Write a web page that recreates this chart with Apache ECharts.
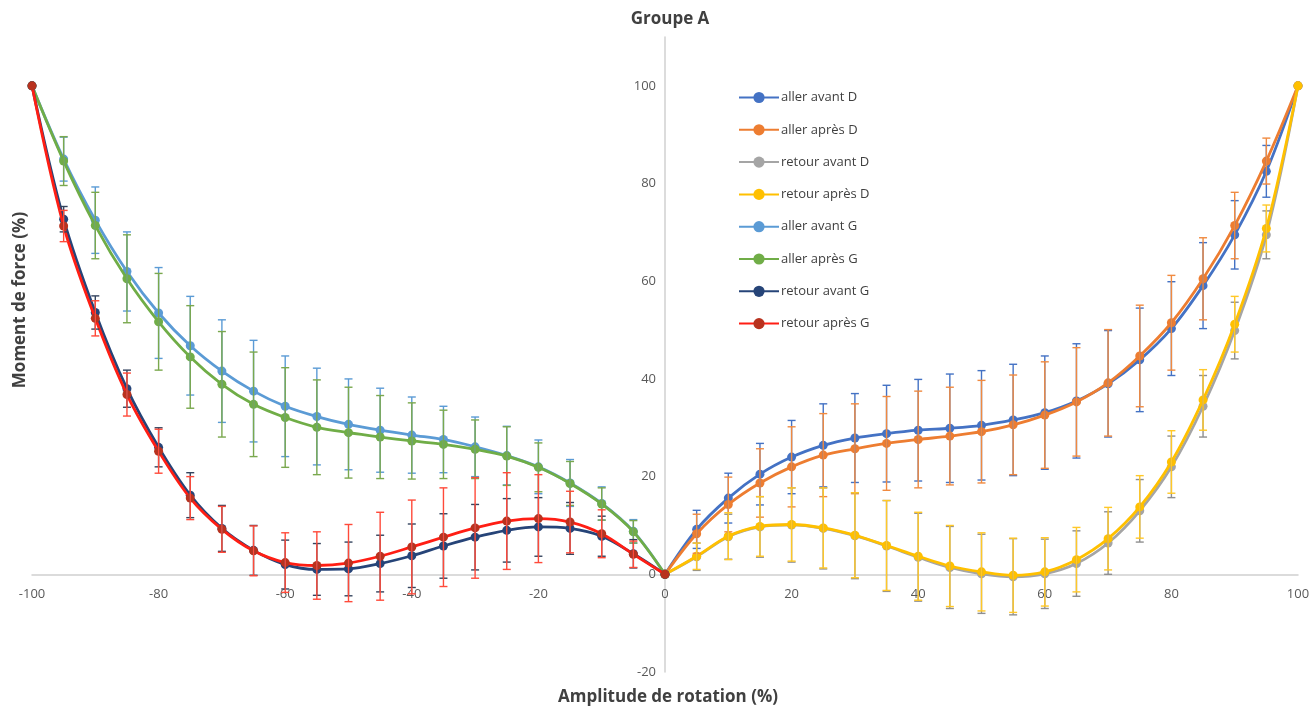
<!DOCTYPE html>
<html><head><meta charset="utf-8">
<script src="https://cdn.jsdelivr.net/npm/echarts@6/dist/echarts.min.js"></script>
<style>html,body{margin:0;padding:0;background:#fff}#c{width:1315px;height:713px}</style>
</head><body><div id="c"></div>
<script>
// ---- data ----
const xLeft  = [-100,-95,-90,-85,-80,-75,-70,-65,-60,-55,-50,-45,-40,-35,-30,-25,-20,-15,-10,-5,0];
const xRight = [0,5,10,15,20,25,30,35,40,45,50,55,60,65,70,75,80,85,90,95,100];

const allerAvantD    = [0,9.2,15.6,20.5,24.0,26.4,27.9,28.8,29.5,29.9,30.5,31.6,33.1,35.5,39.0,43.9,50.3,59.1,69.5,82.5,100];
const errAllerAvantD = [0,3.9,5.1,6.3,7.5,8.5,9.1,9.9,10.4,11.1,11.2,11.4,11.6,11.7,10.9,10.6,9.6,8.8,7.0,5.3,0];
const allerApresD    = [0,8.3,14.3,18.7,22.0,24.4,25.7,26.8,27.6,28.3,29.2,30.6,32.6,35.3,39.2,44.7,51.5,60.5,71.4,84.6,100];
const errAllerApresD = [0,4.0,5.6,7.0,8.2,8.5,9.2,9.6,9.9,10.0,10.5,10.2,10.9,11.1,10.9,10.4,9.7,8.4,6.8,4.7,0];
const retourAvantD    = [0,3.6,7.7,9.7,10.1,9.4,7.9,5.8,3.5,1.4,0.1,-0.5,0.1,2.2,6.4,13.0,22.0,34.4,49.9,69.5,100];
const errRetourAvantD = [0,2.8,4.6,6.2,7.6,8.3,8.8,9.3,9.0,8.4,8.1,7.8,7.1,6.7,6.4,6.4,6.3,6.3,5.8,4.9,0];
const retourApresD    = [0,3.7,7.8,9.8,10.2,9.5,8.0,5.9,3.7,1.7,0.5,-0.2,0.5,3.0,7.3,13.8,23.0,35.7,51.2,70.8,100];
const errRetourApresD = [0,2.7,4.8,6.1,7.5,8.2,8.7,9.2,9.0,8.3,8.0,7.6,7.0,6.6,6.4,6.4,6.4,6.2,5.7,4.8,0];

const allerAvantG    = [100,85.0,72.5,62.0,53.5,46.8,41.6,37.5,34.4,32.3,30.7,29.5,28.5,27.6,26.1,24.3,22.0,18.7,14.5,8.8,0];
const errAllerAvantG = [0,4.5,6.8,8.1,9.3,10.1,10.5,10.4,10.3,9.9,9.3,8.6,7.8,6.8,6.1,6.0,5.5,4.8,3.4,2.4,0];
const allerApresG    = [100,84.6,71.4,60.5,51.7,44.5,38.9,34.8,32.1,30.1,29.0,28.1,27.3,26.6,25.6,24.2,21.9,18.6,14.4,8.7,0];
const errAllerApresG = [0,5.0,6.8,9.0,9.9,10.5,10.8,10.7,10.2,9.7,9.3,8.5,7.8,7.0,6.0,6.0,5.0,4.5,3.3,2.3,0];
const retourAvantG    = [100,72.7,53.6,38.0,26.0,16.2,9.4,4.9,2.0,1.0,1.1,2.2,3.8,5.8,7.6,9.0,9.7,9.4,7.8,4.2,0];
const errRetourAvantG = [0,2.6,3.4,3.8,4.0,4.6,4.7,5.1,5.0,5.3,5.5,5.8,6.5,6.6,6.7,6.5,6.0,5.3,4.1,2.9,0];
const retourApresG    = [100,71.3,52.4,36.8,25.2,15.6,9.2,4.8,2.4,1.8,2.3,3.7,5.6,7.6,9.5,10.9,11.4,10.7,8.3,4.1,0];
const errRetourApresG = [0,3.2,3.6,4.4,4.5,4.4,4.7,5.1,6.1,6.9,7.9,9.0,9.6,10.1,10.3,9.9,9.0,6.3,4.9,2.7,0];

const seriesNames = ['aller avant D','aller après D','retour avant D','retour après D','aller avant G','aller après G','retour avant G','retour après G'];
const yTicks = [-20,0,20,40,60,80,100];

// ---- chart ----
const defs = [
  {name:seriesNames[0], x:xRight, y:allerAvantD,  e:errAllerAvantD,  line:'#4472C4', mark:'#4472C4', err:'#4472C4'},
  {name:seriesNames[1], x:xRight, y:allerApresD,  e:errAllerApresD,  line:'#ED7D31', mark:'#ED7D31', err:'#F08A40'},
  {name:seriesNames[2], x:xRight, y:retourAvantD, e:errRetourAvantD, line:'#A5A5A5', mark:'#A5A5A5', err:'#8F8F8F'},
  {name:seriesNames[3], x:xRight, y:retourApresD, e:errRetourApresD, line:'#FFC000', mark:'#FFC000', err:'#FFC828'},
  {name:seriesNames[4], x:xLeft,  y:allerAvantG,  e:errAllerAvantG,  line:'#5B9BD5', mark:'#5B9BD5', err:'#5B9BD5'},
  {name:seriesNames[5], x:xLeft,  y:allerApresG,  e:errAllerApresG,  line:'#70AD47', mark:'#70AD47', err:'#7AA84E'},
  {name:seriesNames[6], x:xLeft,  y:retourAvantG, e:errRetourAvantG, line:'#264478', mark:'#264478', err:'#34445E'},
  {name:seriesNames[7], x:xLeft,  y:retourApresG, e:errRetourApresG, line:'#FF1E14', mark:'#B8321E', err:'#FF4A3A'}
];

const series = [];
defs.forEach((d, i) => {
  series.push({
    name: d.name, type: 'line', smooth: 0.35,
    data: d.x.map((x, k) => [x, d.y[k]]),
    symbol: 'circle', symbolSize: 9,
    lineStyle: {color: d.line, width: 2.8},
    itemStyle: {color: d.mark, borderWidth: 0},
    z: 2 + i * 0.01, animation: false
  });
});
defs.forEach((d, i) => {
  series.push({
    name: 'err' + i, type: 'custom',
    data: d.x.map((x, k) => [x, d.y[k], d.e[k]]),
    encode: {x: 0, y: 1},
    z: 3, animation: false, silent: true,
    renderItem: function (params, api) {
      const x = api.value(0), y = api.value(1), e = api.value(2);
      if (!e) return null;
      const top = api.coord([x, y + e]);
      const bot = api.coord([x, y - e]);
      const w = 4;
      const st = {stroke: d.err, lineWidth: 1.4};
      return {type: 'group', children: [
        {type: 'line', shape: {x1: top[0], y1: top[1], x2: bot[0], y2: bot[1]}, style: st},
        {type: 'line', shape: {x1: top[0]-w, y1: top[1], x2: top[0]+w, y2: top[1]}, style: st},
        {type: 'line', shape: {x1: bot[0]-w, y1: bot[1], x2: bot[0]+w, y2: bot[1]}, style: st}
      ]};
    }
  });
});

// grid geometry used to place the axes through zero
const G = {left: 32, right: 17, top: 37, bottom: 41, W: 1315, H: 713};
const yMin = -20, yMax = 110, xMin = -100, xMax = 100;
const plotH = G.H - G.top - G.bottom, plotW = G.W - G.left - G.right;
const xAxisOffset = -plotH * (0 - yMin) / (yMax - yMin);
const yAxisOffset = -plotW * (0 - xMin) / (xMax - xMin);

const chart = echarts.init(document.getElementById('c'), null, {renderer: 'canvas'});
chart.setOption({
  backgroundColor: '#ffffff',
  animation: false,
  textStyle: {fontFamily: 'Open Sans'},
  title: {
    text: 'Groupe A', left: 665, top: 6, textAlign: 'center',
    textStyle: {fontFamily: 'Open Sans', fontWeight: 'bold', fontSize: 17, color: '#404040'}
  },
  grid: {left: G.left, right: G.right, top: G.top, bottom: G.bottom, containLabel: false},
  legend: {
    data: seriesNames, orient: 'vertical', left: 733, top: 86,
    itemWidth: 40, itemHeight: 14, itemGap: 19.3,
    textStyle: {fontFamily: 'Open Sans', fontSize: 13, color: '#404040', padding: [0,0,0,-3]}
  },
  xAxis: {
    type: 'value', min: xMin, max: xMax, interval: 20,
    position: 'bottom', offset: xAxisOffset,
    axisLine: {onZero: false, lineStyle: {color: '#D0D0D0', width: 1.5}},
    axisTick: {show: false}, splitLine: {show: false},
    axisLabel: {color: '#595959', fontSize: 13, margin: 13, fontFamily: 'Open Sans'}
  },
  yAxis: {
    type: 'value', min: yMin, max: yMax, interval: 20,
    position: 'left', offset: yAxisOffset,
    axisLine: {show: true, onZero: false, lineStyle: {color: '#D0D0D0', width: 1.5}},
    axisTick: {show: false}, splitLine: {show: false},
    axisLabel: {color: '#595959', fontSize: 13, margin: 9, fontFamily: 'Open Sans', showMaxLabel: false,
      formatter: v => (yTicks.indexOf(v) >= 0 ? String(v) : '')}
  },
  graphic: [
    {type: 'text', x: 668, y: 697, style: {text: 'Amplitude de rotation (%)', font: 'bold 17px "Open Sans"', fill: '#404040', align: 'center', verticalAlign: 'middle'}},
    {type: 'text', x: 20, y: 300, rotation: Math.PI / 2, style: {text: 'Moment de force (%)', font: 'bold 17px "Open Sans"', fill: '#404040', align: 'center', verticalAlign: 'middle'}}
  ],
  series: series
});
</script>
</body></html>
